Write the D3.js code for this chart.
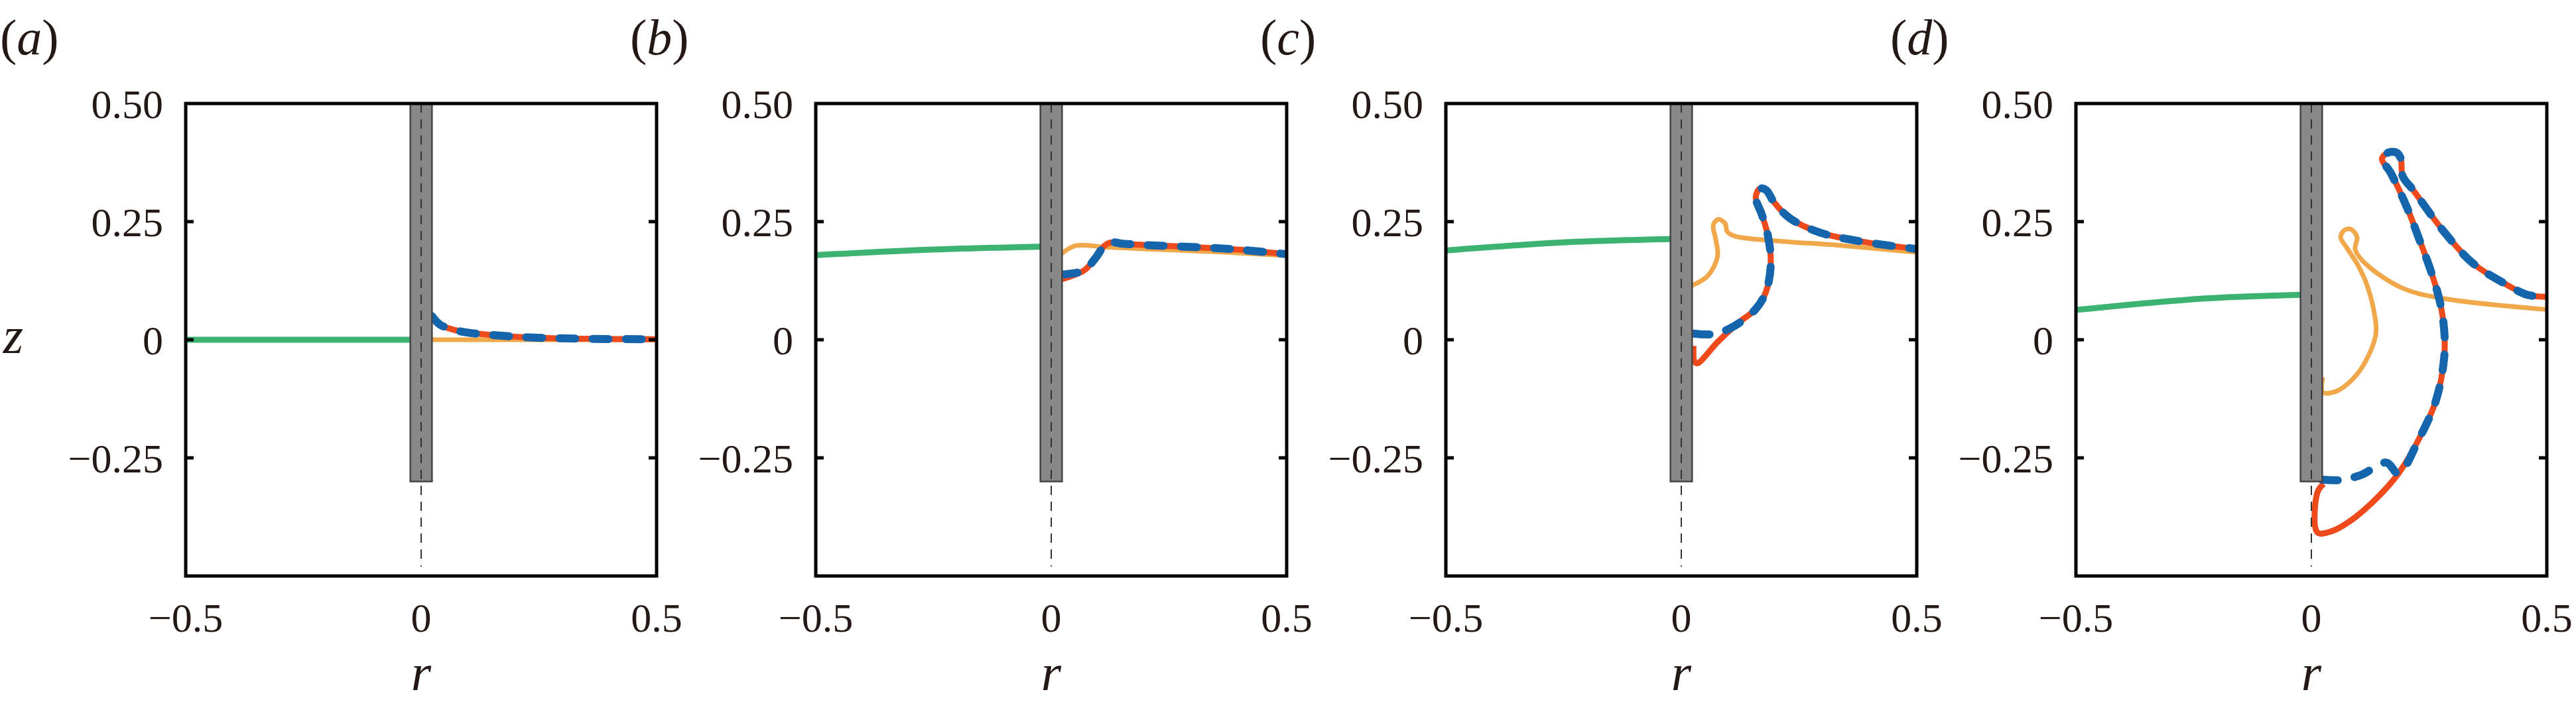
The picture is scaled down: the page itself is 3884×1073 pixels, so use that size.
<!DOCTYPE html>
<html><head><meta charset="utf-8">
<script src="https://cdn.jsdelivr.net/npm/d3@7/dist/d3.min.js"></script>
<style>body{margin:0;background:#fff}</style></head>
<body><svg id="c" width="3884" height="1073"></svg>
<script>
const panelLabels = ["a","b","c","d"];
const xTicks = [-0.5, 0, 0.5];
const yTicks = [0.5, 0.25, 0, -0.25];
const yTickLabels = ["0.50","0.25","0","\u22120.25"];
const xTickLabels = ["\u22120.5","0","0.5"];
const rodHalf = 0.023, rodBottom = -0.3, axisBottom = -0.48;

const green = [
 [[-0.5,0],[-0.25,0],[-0.023,0]],
 [[-0.5,0.179],[-0.25,0.191],[-0.023,0.197]],
 [[-0.5,0.189],[-0.25,0.206],[-0.023,0.213]],
 [[-0.5,0.063],[-0.247,0.086],[-0.022,0.095]]
];
const orange = [
 [[0.023,0],[0.2,0],[0.5,0]],
 [[0.022,0.182],[0.051,0.199],[0.117,0.196],[0.2,0.192],[0.35,0.186],[0.5,0.178]],
 [[0.023,0.115],[0.056,0.135],[0.077,0.176],[0.073,0.213],[0.068,0.243],[0.079,0.255],[0.093,0.246],[0.098,0.228],[0.115,0.219],[0.205,0.209],[0.333,0.2],[0.5,0.185]],
 [[0.024,-0.079],[0.024,-0.111],[0.053,-0.109],[0.088,-0.083],[0.115,-0.046],[0.137,0.013],[0.132,0.065],[0.115,0.124],[0.097,0.161],[0.075,0.195],[0.062,0.217],[0.07,0.232],[0.084,0.234],[0.097,0.217],[0.093,0.191],[0.115,0.161],[0.194,0.109],[0.282,0.087],[0.5,0.064]]
];
const red = [
 [[0.023,0.05],[0.04,0.032],[0.07,0.021],[0.1,0.015],[0.15,0.01],[0.23,0.005],[0.35,0.002],[0.5,0.001]],
 [[0.022,0.128],[0.07,0.147],[0.094,0.173],[0.113,0.199],[0.127,0.206],[0.155,0.203],[0.38,0.192],[0.5,0.181]],
 [[0.026,-0.013],[0.028,-0.046],[0.034,-0.05],[0.077,-0.005],[0.12,0.035],[0.158,0.065],[0.18,0.102],[0.19,0.161],[0.184,0.22],[0.171,0.265],[0.158,0.302],[0.167,0.32],[0.18,0.317],[0.197,0.291],[0.231,0.257],[0.291,0.228],[0.376,0.209],[0.5,0.192]],
 [[0.026,-0.305],[0.013,-0.323],[0.013,-0.408],[0.044,-0.405],[0.079,-0.386],[0.132,-0.342],[0.185,-0.283],[0.229,-0.209],[0.265,-0.127],[0.282,-0.038],[0.282,0.021],[0.273,0.08],[0.256,0.139],[0.229,0.213],[0.203,0.28],[0.168,0.354],[0.15,0.383],[0.163,0.396],[0.181,0.396],[0.19,0.383],[0.194,0.346],[0.216,0.317],[0.282,0.228],[0.344,0.161],[0.414,0.117],[0.459,0.095],[0.5,0.091]]
];
const blueStart = [
 [],
 [[0.022,0.138],[0.035,0.139]],
 [[0.026,0.013],[0.068,0.012],[0.111,0.028]],
 [[0.022,-0.296],[0.062,-0.297],[0.106,-0.286],[0.159,-0.26]]
];
const blueJoin = [0, 1, 5, 6];

const svg = d3.select("#c");
const W = 710, H = 712, T0 = 156, left0 = 280, step = 950;
const serif = "Liberation Serif, Times New Roman, serif";

panelLabels.forEach((lab, i) => {
  const L = left0 + i*step;
  const x = d3.scaleLinear().domain([-0.5,0.5]).range([L, L+W]);
  const y = d3.scaleLinear().domain([-0.5,0.5]).range([T0+H, T0]);
  const g = svg.append("g");
  const cid = "clip"+i;
  g.append("clipPath").attr("id",cid).append("rect").attr("x",L).attr("y",T0).attr("width",W).attr("height",H);
  const line = d3.line().x(d=>x(d[0])).y(d=>y(d[1])).curve(d3.curveCatmullRom.alpha(0.5));
  const pg = g.append("g").attr("clip-path",`url(#${cid})`);
  pg.append("path").attr("d",line(green[i])).attr("fill","none").attr("stroke","#3cb371").attr("stroke-width",9);
  pg.append("path").attr("d",line(orange[i])).attr("fill","none").attr("stroke","#f0a84a").attr("stroke-width",7);
  pg.append("path").attr("d",line(red[i])).attr("fill","none").attr("stroke","#ee4a1c").attr("stroke-width",9);
  const bl = blueStart[i].concat(red[i].slice(blueJoin[i]));
  pg.append("path").attr("d",line(bl)).attr("fill","none").attr("stroke","#1565ad").attr("stroke-width",12)
    .attr("stroke-dasharray","24 26").attr("stroke-linecap","round");
  pg.append("rect").attr("x",x(-rodHalf)).attr("y",T0).attr("width",x(rodHalf)-x(-rodHalf)).attr("height",y(rodBottom)-T0)
    .attr("fill","#888").attr("stroke","#444").attr("stroke-width",2.5);
  pg.append("line").attr("x1",x(0)).attr("x2",x(0)).attr("y1",T0).attr("y2",y(axisBottom))
    .attr("stroke","#333").attr("stroke-width",2).attr("stroke-dasharray","14 10");
  g.append("rect").attr("x",L).attr("y",T0).attr("width",W).attr("height",H).attr("fill","none").attr("stroke","#000").attr("stroke-width",5);
  yTicks.forEach((t,k)=>{
    if (t!==0.5){
      g.append("line").attr("x1",L).attr("x2",L+12).attr("y1",y(t)).attr("y2",y(t)).attr("stroke","#000").attr("stroke-width",5);
      g.append("line").attr("x1",L+W-12).attr("x2",L+W).attr("y1",y(t)).attr("y2",y(t)).attr("stroke","#000").attr("stroke-width",5);
    }
    g.append("text").attr("x",L-34).attr("y",y(t)+22).attr("text-anchor","end").attr("font-family",serif).attr("font-size",62).attr("fill","#231815").text(yTickLabels[k]);
  });
  xTicks.forEach((t,k)=>{
    g.append("text").attr("x",x(t)).attr("y",T0+H+84).attr("text-anchor","middle").attr("font-family",serif).attr("font-size",62).attr("fill","#231815").text(xTickLabels[k]);
  });
  g.append("text").attr("x",x(0)).attr("y",T0+H+172).attr("text-anchor","middle").attr("font-family",serif).attr("font-style","italic").attr("font-size",78).attr("fill","#231815").text("r");
  const lt = g.append("text").attr("x",L-280).attr("y",82).attr("font-family",serif).attr("font-size",76).attr("fill","#231815");
  lt.append("tspan").text("(");
  lt.append("tspan").attr("font-style","italic").text(lab);
  lt.append("tspan").text(")");
});
svg.append("text").attr("x",20).attr("y",512+20).attr("text-anchor","middle").attr("font-family",serif).attr("font-style","italic").attr("font-size",78).attr("fill","#231815").text("z");
</script></body></html>
